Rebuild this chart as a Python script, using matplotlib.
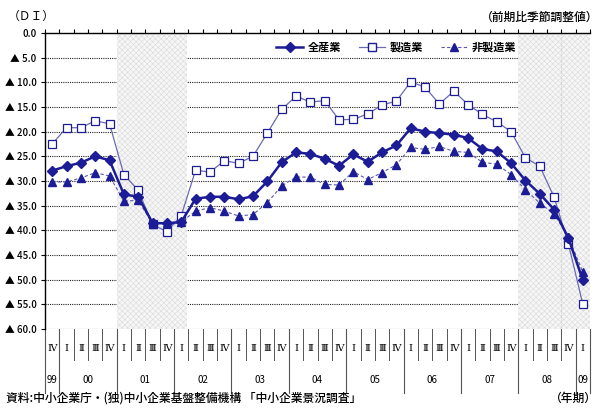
import matplotlib
matplotlib.use("Agg")
import matplotlib.pyplot as plt
from matplotlib.lines import Line2D
import numpy as np

plt.rcParams['font.family'] = ['Noto Sans CJK JP', 'DejaVu Sans']
plt.rcParams['hatch.linewidth'] = 0.4

# DI values (negative = ▲), quarterly 1999 IV .. 2009 I
all_industries = [-27.9, -27.0, -26.3, -25.0, -25.8, -32.7, -33.2, -38.5, -38.6, -38.3,
                  -33.6, -33.2, -33.2, -33.7, -33.1, -30.1, -26.2, -24.2, -24.5, -25.5,
                  -26.9, -24.6, -26.1, -24.2, -22.8, -19.3, -20.0, -20.3, -20.6, -21.3,
                  -23.5, -24.0, -26.4, -29.9, -32.6, -35.8, -41.6, -50.1]
manufacturing = [-22.5, -19.2, -19.2, -17.8, -18.4, -28.7, -31.9, -38.8, -40.3, -37.0,
                 -27.8, -28.2, -25.9, -26.4, -25.0, -20.3, -15.5, -12.8, -14.0, -13.7,
                 -17.6, -17.5, -16.4, -14.6, -13.8, -9.9, -11.0, -14.4, -11.8, -14.5,
                 -16.5, -18.0, -20.0, -25.3, -27.0, -33.3, -42.8, -55.0]
non_manufacturing = [-30.2, -30.2, -29.4, -28.3, -29.0, -34.1, -33.9, -38.7, -38.5, -38.3,
                     -36.1, -35.4, -36.1, -37.1, -36.8, -34.4, -31.0, -29.2, -29.2, -30.7,
                     -30.8, -28.1, -29.7, -28.3, -26.7, -23.2, -23.6, -23.0, -24.0, -24.2,
                     -26.2, -26.6, -28.7, -31.8, -34.5, -36.7, -41.4, -48.5]

quarter_labels = ['Ⅳ'] + ['Ⅰ', 'Ⅱ', 'Ⅲ', 'Ⅳ'] * 9 + ['Ⅰ']
year_labels = ['99', '00', '01', '02', '03', '04', '05', '06', '07', '08', '09']
year_quarters = [1, 4, 4, 4, 4, 4, 4, 4, 4, 4, 1]

# recession shading (quarter index ranges)
shade_ranges = [(4.5, 9.4), (32.5, 37.5)]

series_labels = ['全産業', '製造業', '非製造業']

navy = '#1c1c96'
x = np.arange(len(all_industries))

fig = plt.figure(figsize=(6.02, 4.09), dpi=100)
ax = fig.add_axes([45 / 602, 1 - 329 / 409, 545 / 602, 296 / 409])

ax.set_xlim(-0.5, len(x) - 0.5)
ax.set_ylim(-60, 0)

# gridlines
for v in np.arange(-60, 0, 5):
    ax.axhline(v, color='#222222', lw=0.8, ls=(0, (1, 1)), zorder=1)

for a, b in shade_ranges:
    ax.axvspan(a, b, facecolor='#f6f6f6', hatch='xxxxxx', edgecolor='#dadada',
               lw=0, zorder=2)
ax.axvline(35.5, color='#d0d0d0', lw=0.8, ls=(0, (1, 1)), zorder=2)

ax.plot(x, manufacturing, color='#6a6ab4', lw=0.9, marker='s', ms=6,
        mfc='white', mec=navy, mew=0.9, zorder=4, label=series_labels[1])
ax.plot(x, non_manufacturing, color='#5a5aa8', lw=0.8, ls=(0, (3, 2)), marker='^', ms=6,
        mfc=navy, mec=navy, zorder=4, label=series_labels[2])
ax.plot(x, all_industries, color=navy, lw=1.8, marker='D', ms=5,
        mfc=navy, mec=navy, zorder=5, label=series_labels[0])

# y axis
yt = np.arange(0, -65, -5)
ax.set_yticks(yt)
ax.set_yticklabels(['0.0' if v == 0 else f'▲ {abs(v):.1f}' for v in yt],
                   fontsize=7, fontweight='medium')
ax.tick_params(axis='y', length=3, width=0.8, pad=3)

# top category axis ticks at quarter boundaries
ax.xaxis.tick_top()
ax.set_xticks(np.arange(-0.5, len(x), 1))
ax.set_xticklabels([])
ax.tick_params(axis='x', length=3, width=0.8, direction='out')

ax.spines['right'].set_visible(False)
ax.spines['bottom'].set_visible(False)
ax.spines['top'].set_linewidth(1.0)
ax.spines['left'].set_linewidth(1.0)

# category table below the plot
trans = ax.get_xaxis_transform()
for i, q in enumerate(quarter_labels):
    ax.text(i, -0.065, q, transform=trans, ha='center', va='center',
            fontsize=7, family=['DejaVu Serif', 'Noto Sans CJK JP'], clip_on=False)
for k in range(len(x) + 1):
    ax.add_line(Line2D([k - 0.5, k - 0.5], [0, -0.105], transform=trans,
                       color='#555555', lw=0.7, clip_on=False))
start = 0
for lab, n in zip(year_labels, year_quarters):
    ax.text(start + (n - 1) / 2, -0.172, lab, transform=trans, ha='center',
            va='center', fontsize=7, clip_on=False)
    ax.add_line(Line2D([start - 0.5, start - 0.5], [0, -0.215], transform=trans,
                       color='#555555', lw=0.8, clip_on=False))
    start += n
ax.add_line(Line2D([start - 0.5, start - 0.5], [0, -0.215], transform=trans,
                   color='#555555', lw=0.8, clip_on=False))

handles = [
    Line2D([], [], color=navy, lw=1.8, marker='D', ms=5, mfc=navy, mec=navy),
    Line2D([], [], color='#6a6ab4', lw=0.9, marker='s', ms=6, mfc='white', mec=navy),
    Line2D([], [], color='#5a5aa8', lw=0.8, ls=(0, (3, 2)), marker='^', ms=6,
           mfc=navy, mec=navy),
]
ax.legend(handles, series_labels, loc='center', bbox_to_anchor=(0.645, 0.953),
          ncol=3, frameon=False, handlelength=2.4, columnspacing=1.6,
          handletextpad=0.4, prop={'weight': 'bold', 'size': 8})

fig.text(8 / 602, 1 - 16 / 409, '（ＤＩ）', fontsize=8.5, ha='left', va='center')
fig.text(598 / 602, 1 - 17 / 409, '（前期比季節調整値）', fontsize=8.5, ha='right',
         va='center', fontweight='medium')
fig.text(6 / 602, 1 - 398 / 409, '資料:中小企業庁・(独)中小企業基盤整備機構 「中小企業景況調査」',
         fontsize=8.5, ha='left', va='center', fontweight='medium')
fig.text(597 / 602, 1 - 398 / 409, '（年期）', fontsize=8.5, ha='right', va='center',
         fontweight='medium')

fig.savefig('out.png', dpi=100)
